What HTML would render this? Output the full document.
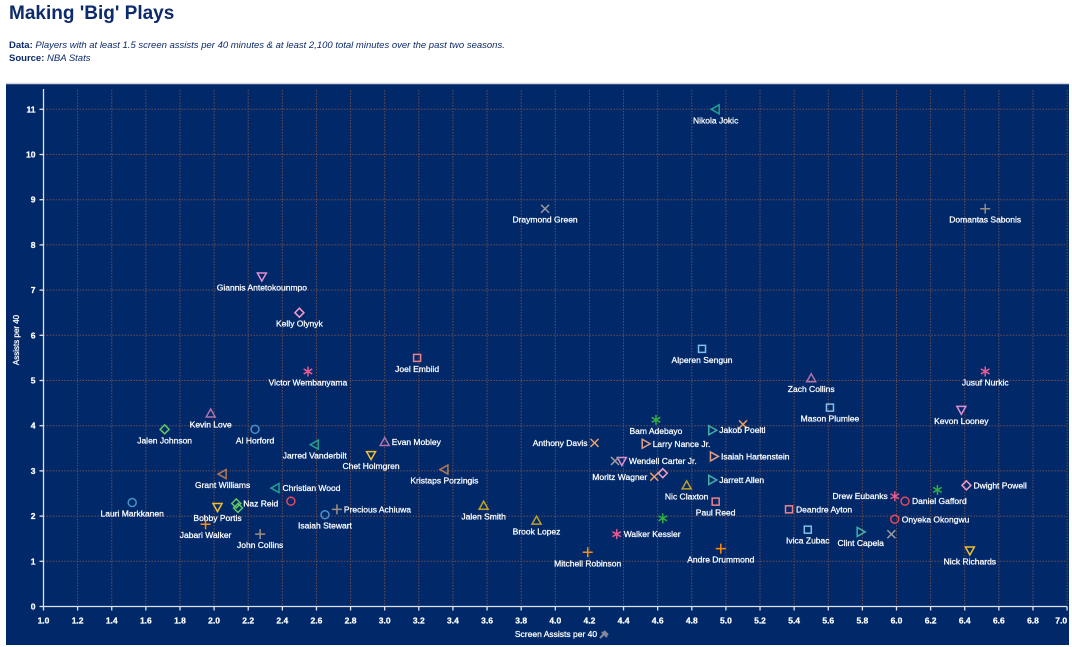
<!DOCTYPE html>
<html><head><meta charset="utf-8"><style>
body{margin:0;background:#fff;font-family:"Liberation Sans",sans-serif;}
#wrap{position:relative;width:1072px;height:647px;overflow:hidden}
h1{position:absolute;left:9px;top:3px;margin:0;font-size:19px;color:#0d2a6b;font-weight:bold}
.sub{position:absolute;left:9px;font-size:9.5px;color:#0d2a6b}
.sub b{font-weight:bold}.sub i{font-style:italic}
svg{position:absolute;left:0;top:0}
svg text{paint-order:stroke;stroke:#fff;stroke-width:0.25px}
</style></head><body>
<div id="wrap">
<h1>Making 'Big' Plays</h1>
<div class="sub" style="top:40px"><b>Data:</b> <i>Players with at least 1.5 screen assists per 40 minutes &amp; at least 2,100 total minutes over the past two seasons.</i></div>
<div class="sub" style="top:53px"><b>Source:</b> <i>NBA Stats</i></div>
<svg id="chart" width="1072" height="647"></svg>
</div>
<script>
const players=["Nikola Jokic","Draymond Green","Domantas Sabonis","Giannis Antetokounmpo","Kelly Olynyk","Alperen Sengun","Joel Embiid","Victor Wembanyama","Jusuf Nurkic","Zach Collins","Mason Plumlee","Kevon Looney","Kevin Love","Bam Adebayo","Jalen Johnson","Al Horford","","Jakob Poeltl","Anthony Davis","Larry Nance Jr.","Evan Mobley","Jarred Vanderbilt","Isaiah Hartenstein","Chet Holmgren","Wendell Carter Jr.","","Kristaps Porzingis","Grant Williams","Moritz Wagner","","Jarrett Allen","Nic Claxton","Dwight Powell","Christian Wood","Drew Eubanks","Daniel Gafford","","Paul Reed","Naz Reid","","","Lauri Markkanen","Jalen Smith","Bobby Portis","Precious Achiuwa","Deandre Ayton","Isaiah Stewart","Onyeka Okongwu","Brook Lopez","","Jabari Walker","Ivica Zubac","Clint Capela","","Walker Kessler","John Collins","Andre Drummond","Nick Richards","Mitchell Robinson"];
const screenAssists=[4.94,3.94,6.52,2.28,2.50,4.86,3.19,2.55,6.52,5.50,5.61,6.38,1.98,4.59,1.71,2.24,5.10,4.92,4.23,4.53,3.00,2.59,4.93,2.92,4.39,4.35,3.35,2.05,4.58,4.63,4.92,4.77,6.41,2.36,5.99,6.05,6.24,4.94,2.13,2.14,2.45,1.52,3.58,2.02,2.72,5.37,2.65,5.99,3.89,4.63,1.95,5.48,5.79,5.97,4.36,2.27,4.97,6.43,4.19];
const assists=[11.0,8.8,8.8,7.3,6.5,5.7,5.5,5.2,5.2,5.05,4.4,4.35,4.27,4.13,3.92,3.92,4.03,3.9,3.62,3.6,3.64,3.58,3.32,3.35,3.22,3.22,3.03,2.93,2.87,2.95,2.8,2.68,2.68,2.62,2.44,2.33,2.58,2.32,2.28,2.18,2.33,2.3,2.23,2.2,2.15,2.15,2.03,1.93,1.9,1.95,1.82,1.7,1.65,1.6,1.6,1.6,1.28,1.24,1.2];
const shapes=["tl","x","p","td","d","s","s","a","a","tu","s","td","tu","a","d","o","x","tr","x","tr","tu","tl","tr","td","td","x","tl","tl","x","d","tr","tu","d","tl","a","o","a","s","d","d","o","o","tu","td","p","s","o","o","tu","a","p","s","tr","x","a","p","p","td","p"];
const colors=["#20a090","#9a9a9a","#9a8a80","#e090d0","#f0a0c8","#80c0e8","#f08088","#e85a90","#e85a90","#b070a8","#80c0e8","#e090d0","#b070a8","#30b040","#60c860","#4a90c8","#f0a060","#40b0a8","#f0a060","#e0a088","#b070a8","#20a090","#e0a088","#f0c030","#e090d0","#9a9a9a","#b07850","#b07850","#f0a060","#f0a0c8","#40b0a8","#c0a020","#f0a0c8","#20a090","#e85a90","#e84858","#30b040","#f08088","#60c860","#60c860","#e84858","#4a90c8","#c0a020","#f0c030","#a09080","#f08088","#4a90c8","#e84858","#c0a020","#30b040","#ff8c10","#80c0e8","#40b0a8","#9a9a9a","#e85a90","#a09080","#ff8c10","#f0c030","#ff8c10"];
const labelPos=["b","b","b","b","b","b","b","b","b","b","b","b","b","b","b","b","","r","l","r","r","b","r","b","r","","b","b","l","","r","b","r","r","l","r","","b","r","","","b","b","b","r","r","b","r","b","","b","b","b","","r","b","b","b","b"];
const xTicks=[1.0,1.2,1.4,1.6,1.8,2.0,2.2,2.4,2.6,2.8,3.0,3.2,3.4,3.6,3.8,4.0,4.2,4.4,4.6,4.8,5.0,5.2,5.4,5.6,5.8,6.0,6.2,6.4,6.6,6.8,7.0];
const yTicks=[0,1,2,3,4,5,6,7,8,9,10,11];

const NS="http://www.w3.org/2000/svg";
const svg=document.getElementById('chart');
const X=v=>43.5+(v-1)*170.6;
const Y=v=>606.5-v*45.2;
function mk(t,a,p){const e=document.createElementNS(NS,t);for(const k in a)e.setAttribute(k,a[k]);(p||svg).appendChild(e);return e;}
const bg=mk('rect',{x:6,y:83,width:1063,height:562,fill:'#01296a'});


mk('line',{x1:6,y1:83.5,x2:1069,y2:83.5,stroke:'#d8d8e0','stroke-width':1.5});
const grid=mk('g',{stroke:'#6e4c4c','stroke-width':1,'stroke-dasharray':'1.5,1.5'});


xTicks.forEach(t=>{if(t>1)mk('line',{x1:X(t),y1:90,x2:X(t),y2:Y(0),},grid);});
yTicks.forEach(t=>{if(t>0)mk('line',{x1:X(1),y1:Y(t),x2:1067,y2:Y(t)},grid);});
const ax=mk('g',{stroke:'#e0e0e8','stroke-width':1.3});


mk('line',{x1:X(1),y1:89,x2:X(1),y2:Y(0)},ax);
mk('line',{x1:X(1),y1:Y(0),x2:1067,y2:Y(0)},ax);
xTicks.forEach((t,i)=>{mk('line',{x1:X(t),y1:Y(0),x2:X(t),y2:Y(0)+4},ax);
 const last=i===xTicks.length-1;
 const l=mk('text',{x:last?X(t):X(t),y:Y(0)+17,fill:'#fff','font-size':8.5,'font-weight':600,'text-anchor':last?'end':'middle'});l.textContent=t.toFixed(1);
 
 });
yTicks.forEach(t=>{mk('line',{x1:X(1)-4,y1:Y(t),x2:X(1),y2:Y(t)},ax);
 const l=mk('text',{x:X(1)-8,y:Y(t)+3,fill:'#fff','font-size':8.5,'font-weight':600,'text-anchor':'end'});l.textContent=t;
 
 });
const yt=mk('text',{x:19,y:340,fill:'#fff','font-size':8,'text-anchor':'middle',transform:'rotate(-90 19 340)'});yt.textContent='Assists per 40';


const xt=mk('text',{x:556,y:637,fill:'#fff','font-size':8.5,'text-anchor':'middle'});xt.textContent='Screen Assists per 40';


const pin=mk('path',{d:'M600 638 l4 -4 m-2 -2 l5 5 m-3 -6 l4 4',stroke:'#8a8a9a','stroke-width':2,fill:'none'});



function marker(g,s,cx,cy,c){const st={fill:'none',stroke:c,'stroke-width':1.5};const r=4;
 const P=pts=>mk('polygon',Object.assign({points:pts.map(p=>(cx+p[0])+','+(cy+p[1])).join(' ')},st),g);
 if(s==='o')mk('circle',Object.assign({cx,cy,r},st),g);
 else if(s==='s')mk('rect',Object.assign({x:cx-3.5,y:cy-3.5,width:7,height:7},st),g);
 else if(s==='d')P([[0,-4.5],[4.5,0],[0,4.5],[-4.5,0]]);
 else if(s==='tu')P([[0,-4.5],[4.5,3.5],[-4.5,3.5]]);
 else if(s==='td')P([[0,4.5],[4.5,-3.5],[-4.5,-3.5]]);
 else if(s==='tl')P([[-4.5,0],[3.5,-4.5],[3.5,4.5]]);
 else if(s==='tr')P([[4.5,0],[-3.5,-4.5],[-3.5,4.5]]);
 else if(s==='x')mk('path',Object.assign({d:`M${cx-4} ${cy-4}L${cx+4} ${cy+4}M${cx+4} ${cy-4}L${cx-4} ${cy+4}`},st),g);
 else if(s==='p')mk('path',Object.assign({d:`M${cx-5} ${cy}H${cx+5}M${cx} ${cy-5}V${cy+5}`},st),g);
 else if(s==='a')mk('path',Object.assign({d:`M${cx} ${cy-5}V${cy+5}M${cx-4.3} ${cy-2.5}L${cx+4.3} ${cy+2.5}M${cx+4.3} ${cy-2.5}L${cx-4.3} ${cy+2.5}`},st),g);
}
players.forEach((n,i)=>{
 const g=mk('g',{});
 
 
 const cx=X(screenAssists[i]),cy=Y(assists[i]);
 marker(g,shapes[i],cx,cy,colors[i]);
 if(n){const p=labelPos[i];let a={fill:'#fff','font-size':8.5};
  if(p==='b'){a.x=cx;a.y=cy+14;a['text-anchor']='middle';}
  else if(p==='r'){a.x=cx+7;a.y=cy+3;}
  else {a.x=cx-7;a.y=cy+3;a['text-anchor']='end';}
  const t=mk('text',a,g);t.textContent=n;
  
  }
});
</script>
</body></html>
